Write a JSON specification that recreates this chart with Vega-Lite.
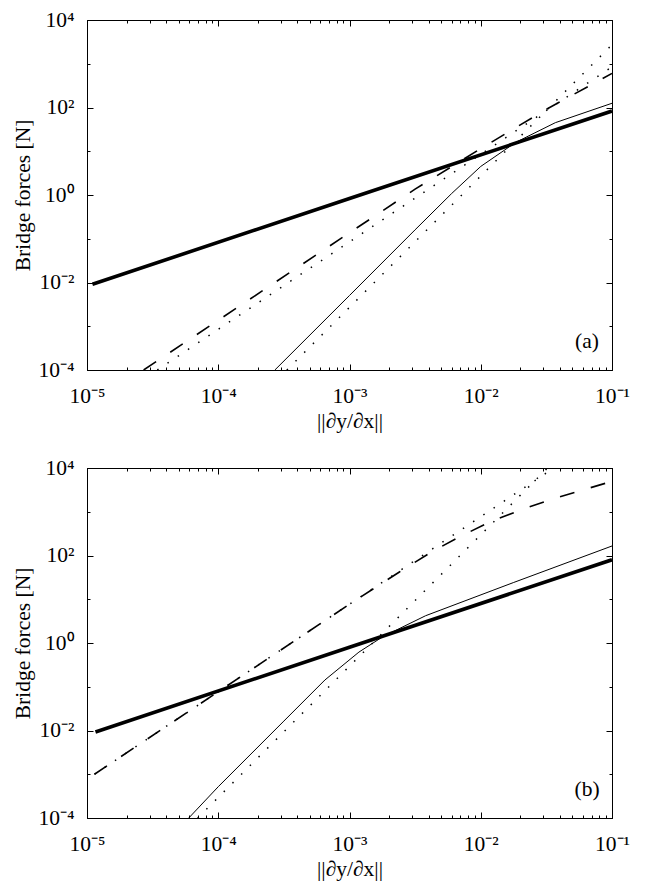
{
  "$schema": "https://vega.github.io/schema/vega-lite/v6.json",
  "background": "white",
  "padding": {"left": 11, "top": 8, "right": 5, "bottom": 0},
  "spacing": 23,
  "config": {
    "view": {"stroke": "black", "strokeWidth": 1},
    "axis": {
      "domainColor": "black", "domainWidth": 1, "tickColor": "black", "tickWidth": 1,
      "labelColor": "black", "titleColor": "black",
      "labelFont": "Liberation Serif", "titleFont": "Liberation Serif",
      "labelFontSize": 21.5, "titleFontSize": 21.5, "titleFontWeight": "normal",
      "grid": false, "labelFlush": false, "labelOverlap": false, "labelBound": false
    }
  },
  "data": {"values": [
    {"p": "a", "s": "thick", "x": 1.1e-5, "y": 0.00913},
    {"p": "a", "s": "thick", "x": 0.001, "y": 0.83},
    {"p": "a", "s": "thick", "x": 0.1, "y": 83},
    {"p": "a", "s": "thin", "x": 2.7e-4, "y": 1e-4},
    {"p": "a", "s": "thin", "x": 0.001, "y": 0.00505},
    {"p": "a", "s": "thin", "x": 0.00316, "y": 0.16},
    {"p": "a", "s": "thin", "x": 0.006, "y": 1.08},
    {"p": "a", "s": "thin", "x": 0.01, "y": 4.5},
    {"p": "a", "s": "thin", "x": 0.0185, "y": 16},
    {"p": "a", "s": "thin", "x": 0.037, "y": 45},
    {"p": "a", "s": "thin", "x": 0.1, "y": 125},
    {"p": "a", "s": "dotcubic", "x": 3.33e-4, "y": 1e-4},
    {"p": "a", "s": "dotcubic", "x": 0.1, "y": 2720},
    {"p": "a", "s": "dotquad", "x": 3.43e-5, "y": 1e-4},
    {"p": "a", "s": "dotquad", "x": 0.1, "y": 850},
    {"p": "a", "s": "dashed", "x": 2.7e-5, "y": 1e-4},
    {"p": "a", "s": "dashed", "x": 1e-4, "y": 0.00137},
    {"p": "a", "s": "dashed", "x": 0.001, "y": 0.137},
    {"p": "a", "s": "dashed", "x": 0.00316, "y": 1.36},
    {"p": "a", "s": "dashed", "x": 0.01, "y": 11.5},
    {"p": "a", "s": "dashed", "x": 0.0316, "y": 91},
    {"p": "a", "s": "dashed", "x": 0.1, "y": 600},
    {"p": "b", "s": "thick", "x": 1.16e-5, "y": 0.00928},
    {"p": "b", "s": "thick", "x": 0.001, "y": 0.8},
    {"p": "b", "s": "thick", "x": 0.1, "y": 80},
    {"p": "b", "s": "thin", "x": 5.96e-5, "y": 1e-4},
    {"p": "b", "s": "thin", "x": 1e-4, "y": 5.19e-4},
    {"p": "b", "s": "thin", "x": 3.16e-4, "y": 0.0164},
    {"p": "b", "s": "thin", "x": 6.5e-4, "y": 0.143},
    {"p": "b", "s": "thin", "x": 0.00118, "y": 0.62},
    {"p": "b", "s": "thin", "x": 0.0018, "y": 1.4},
    {"p": "b", "s": "thin", "x": 0.0038, "y": 4.2},
    {"p": "b", "s": "thin", "x": 0.0177, "y": 24},
    {"p": "b", "s": "thin", "x": 0.1, "y": 165},
    {"p": "b", "s": "dotcubic", "x": 6.97e-5, "y": 1e-4},
    {"p": "b", "s": "dotcubic", "x": 0.0323, "y": 10000},
    {"p": "b", "s": "dotquad", "x": 1.14e-5, "y": 0.001},
    {"p": "b", "s": "dotquad", "x": 0.036, "y": 10000},
    {"p": "b", "s": "dashed", "x": 1.14e-5, "y": 0.001},
    {"p": "b", "s": "dashed", "x": 1e-4, "y": 0.077},
    {"p": "b", "s": "dashed", "x": 0.001, "y": 7.7},
    {"p": "b", "s": "dashed", "x": 0.0024, "y": 42},
    {"p": "b", "s": "dashed", "x": 0.0043, "y": 125},
    {"p": "b", "s": "dashed", "x": 0.007, "y": 275},
    {"p": "b", "s": "dashed", "x": 0.012, "y": 600},
    {"p": "b", "s": "dashed", "x": 0.021, "y": 1150},
    {"p": "b", "s": "dashed", "x": 0.035, "y": 1950},
    {"p": "b", "s": "dashed", "x": 0.061, "y": 3200},
    {"p": "b", "s": "dashed", "x": 0.1, "y": 4950}
  ]},
  "vconcat": [
    {
      "width": 525, "height": 350,
      "layer": [
        {
          "transform": [{"filter": "datum.p == 'a' && datum.s == 'thick'"}],
          "mark": {"type": "line", "color": "black", "strokeWidth": 3.6, "clip": true},
          "encoding": {
            "x": {"field": "x", "type": "quantitative", "scale": {"type": "log", "domain": [1e-5, 0.1], "nice": false},
              "axis": {"orient": "bottom", "title": "||∂y/∂x||", "titlePadding": 1, "labelPadding": 21,
                "values": [1e-5,2e-5,3e-5,4e-5,5e-5,6e-5,7e-5,8e-5,9e-5,1e-4,2e-4,3e-4,4e-4,5e-4,6e-4,7e-4,8e-4,9e-4,0.001,0.002,0.003,0.004,0.005,0.006,0.007,0.008,0.009,0.01,0.02,0.03,0.04,0.05,0.06,0.07,0.08,0.09,0.1],
                "labelExpr": "datum.value == 0.00001 ? '10⁻⁵' : datum.value == 0.0001 ? '10⁻⁴' : datum.value == 0.001 ? '10⁻³' : datum.value == 0.01 ? '10⁻²' : datum.value == 0.1 ? '10⁻¹' : ''",
                "tickSize": {"condition": {"test": "abs(log(datum.value)/LN10 - round(log(datum.value)/LN10)) < 0.001", "value": -6}, "value": -3}}},
            "y": {"field": "y", "type": "quantitative", "scale": {"type": "log", "domain": [1e-4, 10000], "nice": false},
              "axis": {"orient": "left", "title": "Bridge forces [N]", "titlePadding": 4, "labelPadding": 19,
                "values": [1e-4, 1e-3, 0.01, 0.1, 1, 10, 100, 1000, 10000],
                "labelExpr": "datum.value == 0.0001 ? '10⁻⁴' : datum.value == 0.01 ? '10⁻²' : datum.value == 1 ? '10⁰' : datum.value == 100 ? '10²' : datum.value == 10000 ? '10⁴' : ''",
                "tickSize": {"condition": {"test": "abs(round(log(datum.value)/LN10)) % 2 == 0", "value": -6}, "value": -3}}}
          }
        },
        {
          "transform": [{"filter": "datum.p == 'a' && datum.s == 'thin'"}],
          "mark": {"type": "line", "color": "black", "strokeWidth": 1, "clip": true},
          "encoding": {
            "x": {"field": "x", "type": "quantitative", "scale": {"type": "log", "domain": [1e-5, 0.1], "nice": false},
              "axis": {"orient": "top", "title": null, "labels": false,
                "values": [1e-5,2e-5,3e-5,4e-5,5e-5,6e-5,7e-5,8e-5,9e-5,1e-4,2e-4,3e-4,4e-4,5e-4,6e-4,7e-4,8e-4,9e-4,0.001,0.002,0.003,0.004,0.005,0.006,0.007,0.008,0.009,0.01,0.02,0.03,0.04,0.05,0.06,0.07,0.08,0.09,0.1],
                "tickSize": {"condition": {"test": "abs(log(datum.value)/LN10 - round(log(datum.value)/LN10)) < 0.001", "value": -6}, "value": -3}}},
            "y": {"field": "y", "type": "quantitative", "scale": {"type": "log", "domain": [1e-4, 10000], "nice": false},
              "axis": {"orient": "right", "title": null, "labels": false,
                "values": [1e-4, 1e-3, 0.01, 0.1, 1, 10, 100, 1000, 10000],
                "tickSize": {"condition": {"test": "abs(round(log(datum.value)/LN10)) % 2 == 0", "value": -6}, "value": -3}}}
          }
        },
        {
          "transform": [{"filter": "datum.p == 'a' && (datum.s == 'dotcubic' || datum.s == 'dotquad')"}],
          "mark": {"type": "line", "color": "black", "strokeWidth": 1.5, "strokeDash": [1.5, 10.8], "clip": true},
          "encoding": {
            "x": {"field": "x", "type": "quantitative", "scale": {"type": "log", "domain": [1e-5, 0.1], "nice": false}, "axis": null},
            "y": {"field": "y", "type": "quantitative", "scale": {"type": "log", "domain": [1e-4, 10000], "nice": false}, "axis": null},
            "detail": {"field": "s"}
          }
        },
        {
          "transform": [{"filter": "datum.p == 'a' && datum.s == 'dashed'"}],
          "mark": {"type": "line", "color": "black", "strokeWidth": 1.6, "strokeDash": [15, 17], "clip": true},
          "encoding": {
            "x": {"field": "x", "type": "quantitative", "scale": {"type": "log", "domain": [1e-5, 0.1], "nice": false}, "axis": null},
            "y": {"field": "y", "type": "quantitative", "scale": {"type": "log", "domain": [1e-4, 10000], "nice": false}, "axis": null}
          }
        },
        {
          "data": {"values": [{"x": 0.0645, "y": 0.00044, "t": "(a)"}]},
          "mark": {"type": "text", "font": "Liberation Serif", "fontSize": 21.5, "color": "black", "align": "center", "baseline": "middle"},
          "encoding": {
            "x": {"field": "x", "type": "quantitative", "scale": {"type": "log", "domain": [1e-5, 0.1], "nice": false}, "axis": null},
            "y": {"field": "y", "type": "quantitative", "scale": {"type": "log", "domain": [1e-4, 10000], "nice": false}, "axis": null},
            "text": {"field": "t"}
          }
        }
      ],
      "resolve": {"axis": {"x": "independent", "y": "independent"}}
    },
    {
      "width": 525, "height": 350,
      "layer": [
        {
          "transform": [{"filter": "datum.p == 'b' && datum.s == 'thick'"}],
          "mark": {"type": "line", "color": "black", "strokeWidth": 3.6, "clip": true},
          "encoding": {
            "x": {"field": "x", "type": "quantitative", "scale": {"type": "log", "domain": [1e-5, 0.1], "nice": false},
              "axis": {"orient": "bottom", "title": "||∂y/∂x||", "titlePadding": 1, "labelPadding": 21,
                "values": [1e-5,2e-5,3e-5,4e-5,5e-5,6e-5,7e-5,8e-5,9e-5,1e-4,2e-4,3e-4,4e-4,5e-4,6e-4,7e-4,8e-4,9e-4,0.001,0.002,0.003,0.004,0.005,0.006,0.007,0.008,0.009,0.01,0.02,0.03,0.04,0.05,0.06,0.07,0.08,0.09,0.1],
                "labelExpr": "datum.value == 0.00001 ? '10⁻⁵' : datum.value == 0.0001 ? '10⁻⁴' : datum.value == 0.001 ? '10⁻³' : datum.value == 0.01 ? '10⁻²' : datum.value == 0.1 ? '10⁻¹' : ''",
                "tickSize": {"condition": {"test": "abs(log(datum.value)/LN10 - round(log(datum.value)/LN10)) < 0.001", "value": -6}, "value": -3}}},
            "y": {"field": "y", "type": "quantitative", "scale": {"type": "log", "domain": [1e-4, 10000], "nice": false},
              "axis": {"orient": "left", "title": "Bridge forces [N]", "titlePadding": 4, "labelPadding": 19,
                "values": [1e-4, 1e-3, 0.01, 0.1, 1, 10, 100, 1000, 10000],
                "labelExpr": "datum.value == 0.0001 ? '10⁻⁴' : datum.value == 0.01 ? '10⁻²' : datum.value == 1 ? '10⁰' : datum.value == 100 ? '10²' : datum.value == 10000 ? '10⁴' : ''",
                "tickSize": {"condition": {"test": "abs(round(log(datum.value)/LN10)) % 2 == 0", "value": -6}, "value": -3}}}
          }
        },
        {
          "transform": [{"filter": "datum.p == 'b' && datum.s == 'thin'"}],
          "mark": {"type": "line", "color": "black", "strokeWidth": 1, "clip": true},
          "encoding": {
            "x": {"field": "x", "type": "quantitative", "scale": {"type": "log", "domain": [1e-5, 0.1], "nice": false},
              "axis": {"orient": "top", "title": null, "labels": false,
                "values": [1e-5,2e-5,3e-5,4e-5,5e-5,6e-5,7e-5,8e-5,9e-5,1e-4,2e-4,3e-4,4e-4,5e-4,6e-4,7e-4,8e-4,9e-4,0.001,0.002,0.003,0.004,0.005,0.006,0.007,0.008,0.009,0.01,0.02,0.03,0.04,0.05,0.06,0.07,0.08,0.09,0.1],
                "tickSize": {"condition": {"test": "abs(log(datum.value)/LN10 - round(log(datum.value)/LN10)) < 0.001", "value": -6}, "value": -3}}},
            "y": {"field": "y", "type": "quantitative", "scale": {"type": "log", "domain": [1e-4, 10000], "nice": false},
              "axis": {"orient": "right", "title": null, "labels": false,
                "values": [1e-4, 1e-3, 0.01, 0.1, 1, 10, 100, 1000, 10000],
                "tickSize": {"condition": {"test": "abs(round(log(datum.value)/LN10)) % 2 == 0", "value": -6}, "value": -3}}}
          }
        },
        {
          "transform": [{"filter": "datum.p == 'b' && (datum.s == 'dotcubic' || datum.s == 'dotquad')"}],
          "mark": {"type": "line", "color": "black", "strokeWidth": 1.5, "strokeDash": [1.5, 10.8], "clip": true},
          "encoding": {
            "x": {"field": "x", "type": "quantitative", "scale": {"type": "log", "domain": [1e-5, 0.1], "nice": false}, "axis": null},
            "y": {"field": "y", "type": "quantitative", "scale": {"type": "log", "domain": [1e-4, 10000], "nice": false}, "axis": null},
            "detail": {"field": "s"}
          }
        },
        {
          "transform": [{"filter": "datum.p == 'b' && datum.s == 'dashed'"}],
          "mark": {"type": "line", "color": "black", "strokeWidth": 1.6, "strokeDash": [15, 17], "clip": true},
          "encoding": {
            "x": {"field": "x", "type": "quantitative", "scale": {"type": "log", "domain": [1e-5, 0.1], "nice": false}, "axis": null},
            "y": {"field": "y", "type": "quantitative", "scale": {"type": "log", "domain": [1e-4, 10000], "nice": false}, "axis": null}
          }
        },
        {
          "data": {"values": [{"x": 0.0645, "y": 0.00044, "t": "(b)"}]},
          "mark": {"type": "text", "font": "Liberation Serif", "fontSize": 21.5, "color": "black", "align": "center", "baseline": "middle"},
          "encoding": {
            "x": {"field": "x", "type": "quantitative", "scale": {"type": "log", "domain": [1e-5, 0.1], "nice": false}, "axis": null},
            "y": {"field": "y", "type": "quantitative", "scale": {"type": "log", "domain": [1e-4, 10000], "nice": false}, "axis": null},
            "text": {"field": "t"}
          }
        }
      ],
      "resolve": {"axis": {"x": "independent", "y": "independent"}}
    }
  ]
}
